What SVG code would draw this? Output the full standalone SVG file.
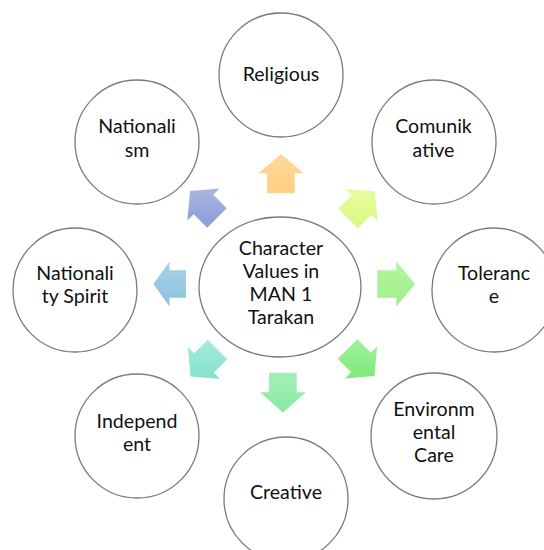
<svg xmlns="http://www.w3.org/2000/svg" width="544" height="550" viewBox="0 0 544 550">
<defs>
<style>
.node circle, .node ellipse { fill: #ffffff; stroke: #7a7a7a; stroke-width: 1.3; }
.node text { font-family: Lato, "Liberation Sans", sans-serif; font-size: 19.6px; fill: #111111; text-anchor: middle; }
</style>
<linearGradient id="gUp" x1="0" y1="0" x2="0" y2="1"><stop offset="0" stop-color="#FFD99B"/><stop offset="1" stop-color="#FFCF85"/></linearGradient>
<linearGradient id="gNE" x1="0" y1="0" x2="0" y2="1"><stop offset="0" stop-color="#E8FCA0"/><stop offset="1" stop-color="#D9F97E"/></linearGradient>
<linearGradient id="gE" x1="0" y1="0" x2="0" y2="1"><stop offset="0" stop-color="#B4F4A0"/><stop offset="1" stop-color="#A0F08A"/></linearGradient>
<linearGradient id="gSE" x1="0" y1="0" x2="0" y2="1"><stop offset="0" stop-color="#A0F29C"/><stop offset="1" stop-color="#7EEA7A"/></linearGradient>
<linearGradient id="gS" x1="0" y1="0" x2="0" y2="1"><stop offset="0" stop-color="#A6EFB8"/><stop offset="1" stop-color="#86E9A2"/></linearGradient>
<linearGradient id="gSW" x1="0" y1="0" x2="0" y2="1"><stop offset="0" stop-color="#A8EADD"/><stop offset="1" stop-color="#82E2CC"/></linearGradient>
<linearGradient id="gW" x1="0" y1="0" x2="0" y2="1"><stop offset="0" stop-color="#A8D2E6"/><stop offset="1" stop-color="#8CC3DC"/></linearGradient>
<linearGradient id="gNW" x1="0" y1="0" x2="0" y2="1"><stop offset="0" stop-color="#AAB6E2"/><stop offset="1" stop-color="#8A9CD8"/></linearGradient>
</defs>
<rect width="544" height="550" fill="#ffffff"/>

<g id="connectors">
<polygon fill="url(#gUp)" points="267.2,193.3 267.2,173.3 258.2,173.3 281,154 303.8,173.3 294.8,173.3 294.8,193.3"/>
<polygon fill="url(#gNE)" points="338.3,208.7 351.7,195.2 345.4,188.9 374.9,191.6 377.6,221.1 371.3,214.8 357.8,228.2"/>
<polygon fill="url(#gE)" points="377.3,270.2 396.3,270.2 396.3,261.5 415,284 396.3,306.5 396.3,297.8 377.3,297.8"/>
<polygon fill="url(#gSE)" points="337.8,358.8 351.2,372.3 344.9,378.6 374.4,375.9 377.1,346.4 370.8,352.7 357.3,339.3"/>
<polygon fill="url(#gS)" points="269,372.7 296.7,372.7 296.7,392.3 306,392.3 283,412.5 260,392.3 269,392.3"/>
<polygon fill="url(#gSW)" points="227.2,359.3 213.8,372.8 220.1,379.1 190.6,376.4 187.9,346.9 194.2,353.2 207.7,339.8"/>
<polygon fill="url(#gW)" points="186,270.2 169.5,270.2 169.5,261.5 153.3,284 169.5,306.5 169.5,297.8 186,297.8"/>
<polygon fill="url(#gNW)" points="226.7,208.2 213.3,194.7 219.6,188.4 190.1,191.1 187.4,220.6 193.7,214.3 207.2,227.7"/>
</g>

<g id="center" class="node">
<ellipse cx="280" cy="287" rx="81" ry="70"/>
<text x="281" y="255">Character</text>
<text x="281" y="278">Values in</text>
<text x="281" y="301">MAN 1</text>
<text x="281" y="324">Tarakan</text>
</g>
<g id="religious" class="node">
<circle cx="281" cy="75" r="62"/>
<text x="281" y="81">Religious</text>
</g>
<g id="comunikative" class="node">
<circle cx="434" cy="142" r="62"/>
<text x="433.5" y="133">Comunik</text>
<text x="433.5" y="157">ative</text>
</g>
<g id="tolerance" class="node">
<circle cx="494" cy="290" r="62"/>
<text x="494" y="280">Toleranc</text>
<text x="494" y="303">e</text>
</g>
<g id="environmental" class="node">
<circle cx="434" cy="436" r="63"/>
<text x="434" y="416">Environm</text>
<text x="434" y="439">ental</text>
<text x="434" y="462">Care</text>
</g>
<g id="creative" class="node">
<circle cx="286" cy="499" r="62"/>
<text x="286" y="499">Creative</text>
</g>
<g id="independent" class="node">
<circle cx="137" cy="436" r="62"/>
<text x="137" y="428">Independ</text>
<text x="137" y="451">ent</text>
</g>
<g id="nationality" class="node">
<circle cx="75" cy="290" r="62"/>
<text x="75" y="280">Nationali</text>
<text x="75" y="303">ty Spirit</text>
</g>
<g id="nationalism" class="node">
<circle cx="137" cy="142" r="62"/>
<text x="137" y="133">Nationali</text>
<text x="137" y="157">sm</text>
</g>
</svg>
